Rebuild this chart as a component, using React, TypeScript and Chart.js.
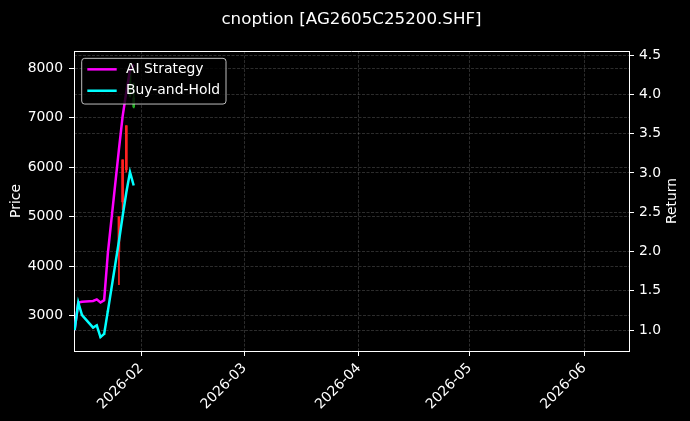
import { useEffect, useRef } from 'react';
import { Chart, registerables } from 'chart.js';

Chart.register(...registerables);

const TITLE = 'cnoption [AG2605C25200.SHF]';

// trading days shown in the reference
const DATES = [
  '2026-01-14', '2026-01-15', '2026-01-16', '2026-01-19', '2026-01-20', '2026-01-21', '2026-01-22',
  '2026-01-23', '2026-01-26', '2026-01-27', '2026-01-28', '2026-01-29', '2026-01-30',
];
const AI_STRATEGY = [1.0, 1.35, 1.36, 1.37, 1.39, 1.35, 1.38, 1.98, 3.3, 3.72, 4.03, 4.31, 4.38];
const BUY_AND_HOLD = [1.0, 1.35, 1.19, 1.03, 1.06, 0.91, 0.95, 1.24, 2.13, 2.45, 2.75, 3.01, 2.84];

// candles (price axis)
const OPEN = [2740, 3240, 3025, 2770, 2795, 2580, 2620, 3080, 5000, 6150, 6840, 7450, 7220];
const HIGH = [2765, 3265, 3030, 2775, 2815, 2585, 2640, 3100, 5000, 6150, 6840, 8100, 7700];
const LOW = [2735, 3235, 3000, 2750, 2790, 2565, 2615, 3075, 3630, 5140, 5900, 7420, 7200];
const CLOSE = [2752, 3257, 3005, 2755, 2810, 2570, 2635, 3095, 4300, 5300, 5950, 7950, 7400];

const PRICE_TICKS = [3000, 4000, 5000, 6000, 7000, 8000];
const RETURN_TICKS = [1.0, 1.5, 2.0, 2.5, 3.0, 3.5, 4.0, 4.5];
const MONTH_TICKS = ['2026-02-01', '2026-03-01', '2026-04-01', '2026-05-01', '2026-06-01'];

const SERIES = ['AI Strategy', 'Buy-and-Hold'];
const SERIES_COLORS = ['#ff00ff', '#00ffff'];

const FONT = 'DejaVu Sans';
const UP = '#22b022';
const DOWN = '#ff2020';
const GRID = 'rgba(255,255,255,0.22)';

const ts = (d: string) => Date.parse(d + 'T00:00:00Z');

const legendPlugin = {
  id: 'boxLegend',
  afterDatasetsDraw(chart: any) {
    const { ctx, chartArea } = chart;
    const x = chartArea.left + 7.7;
    const y = chartArea.top + 7.3;
    ctx.save();
    ctx.beginPath();
    ctx.roundRect(x, y, 144.3, 45.7, 3);
    ctx.fillStyle = 'rgba(0,0,0,0.8)';
    ctx.fill();
    ctx.strokeStyle = 'rgba(210,210,210,0.9)';
    ctx.lineWidth = 1;
    ctx.stroke();
    ctx.font = `13.9px "${FONT}"`;
    ctx.textBaseline = 'middle';
    SERIES.forEach((name, i) => {
      const ly = y + 11 + i * 21.4;
      ctx.strokeStyle = SERIES_COLORS[i];
      ctx.lineWidth = 2.5;
      ctx.beginPath();
      ctx.moveTo(x + 5.6, ly);
      ctx.lineTo(x + 35, ly);
      ctx.stroke();
      ctx.fillStyle = '#ffffff';
      ctx.fillText(name, x + 44.3, ly);
    });
    ctx.restore();
  },
};

const framePlugin = {
  id: 'frame',
  afterDraw(chart: any) {
    const { ctx, chartArea } = chart;
    ctx.save();
    ctx.strokeStyle = '#ffffff';
    ctx.lineWidth = 1;
    ctx.beginPath();
    ctx.moveTo(chartArea.left, Math.round(chartArea.top) + 0.5);
    ctx.lineTo(chartArea.right, Math.round(chartArea.top) + 0.5);
    ctx.stroke();
    // right axis title, reading bottom to top
    ctx.translate(672, (chartArea.top + chartArea.bottom) / 2);
    ctx.rotate(-Math.PI / 2);
    ctx.font = `13.9px "${FONT}"`;
    ctx.fillStyle = '#ffffff';
    ctx.textAlign = 'center';
    ctx.textBaseline = 'middle';
    ctx.fillText('Return', 0, 0);
    ctx.restore();
  },
};

export default function App() {
  const chartRef = useRef<HTMLCanvasElement>(null);

  useEffect(() => {
    document.body.style.margin = '0';
    document.body.style.background = '#000';
    if (!chartRef.current) return;
    const ctx = chartRef.current.getContext('2d');
    if (!ctx) return;

    const xs = DATES.map(ts);
    const candleColors = OPEN.map((o, i) => (CLOSE[i] >= o ? UP : DOWN));
    const tickFont = { family: FONT, size: 13.9 };

    const chart = new Chart(ctx, {
      type: 'line',
      data: {
        datasets: [
          {
            type: 'line',
            label: SERIES[1],
            data: xs.map((x, i) => ({ x, y: BUY_AND_HOLD[i] })),
            borderColor: SERIES_COLORS[1],
            borderWidth: 2.5,
            pointRadius: 0,
            tension: 0,
            yAxisID: 'yReturn',
            order: 0,
          },
          {
            type: 'line',
            label: SERIES[0],
            data: xs.map((x, i) => ({ x, y: AI_STRATEGY[i] })),
            borderColor: SERIES_COLORS[0],
            borderWidth: 2.5,
            pointRadius: 0,
            tension: 0,
            yAxisID: 'yReturn',
            order: 1,
          },
          {
            type: 'bar',
            label: 'body',
            data: xs.map((x, i) => ({ x, y: [OPEN[i], CLOSE[i]] })),
            backgroundColor: candleColors,
            borderWidth: 0,
            barThickness: 2,
            grouped: false,
            yAxisID: 'yPrice',
            order: 2,
          },
          {
            type: 'bar',
            label: 'wick',
            data: xs.map((x, i) => ({ x, y: [LOW[i], HIGH[i]] })),
            backgroundColor: candleColors,
            borderWidth: 0,
            barThickness: 1,
            grouped: false,
            yAxisID: 'yPrice',
            order: 3,
          },
        ] as any,
      },
      options: {
        responsive: true,
        maintainAspectRatio: false,
        animation: false,
        layout: { padding: 0 },
        plugins: {
          legend: { display: false },
          tooltip: { enabled: false },
          title: {
            display: true,
            text: TITLE,
            color: '#ffffff',
            fullSize: false,
            font: { family: FONT, size: 16.7, weight: 'normal' },
            padding: { top: 10, bottom: 21 },
          },
        },
        scales: {
          x: {
            type: 'linear',
            min: Date.parse('2026-01-13T20:00:00Z'),
            max: Date.parse('2026-06-13T03:00:00Z'),
            offset: false,
            afterBuildTicks: (s: any) => {
              s.ticks = MONTH_TICKS.map((d) => ({ value: ts(d) }));
            },
            afterFit: (s: any) => {
              s.height = 70;
            },
            ticks: {
              color: '#ffffff',
              font: tickFont,
              autoSkip: false,
              minRotation: 45,
              maxRotation: 45,
              padding: 4,
              callback: (v: any) => new Date(Number(v)).toISOString().slice(0, 7),
            },
            grid: {
              color: GRID,
              lineWidth: 0.8,
              offset: false,
              tickColor: '#ffffff',
              tickLength: 5,
              tickWidth: 1,
              tickBorderDash: [],
            },
            border: { display: true, color: '#ffffff', width: 1, dash: [3, 1.5] },
          },
          yPrice: {
            type: 'linear',
            position: 'left',
            min: 2287,
            max: 8349,
            afterBuildTicks: (s: any) => {
              s.ticks = PRICE_TICKS.map((v) => ({ value: v }));
            },
            afterFit: (s: any) => {
              s.width = 74;
            },
            ticks: {
              color: '#ffffff',
              font: tickFont,
              padding: 6,
              callback: (v: any) => String(v),
            },
            title: {
              display: true,
              text: 'Price',
              color: '#ffffff',
              font: tickFont,
              padding: { top: 8, bottom: 0 },
            },
            grid: {
              color: GRID,
              lineWidth: 0.8,
              tickColor: '#ffffff',
              tickLength: 5,
              tickWidth: 1,
              tickBorderDash: [],
            },
            border: { display: true, color: '#ffffff', width: 1, dash: [3, 1.5] },
          },
          yReturn: {
            type: 'linear',
            position: 'right',
            min: 0.733,
            max: 4.551,
            afterBuildTicks: (s: any) => {
              s.ticks = RETURN_TICKS.map((v) => ({ value: v }));
            },
            afterFit: (s: any) => {
              s.width = 61;
            },
            ticks: {
              color: '#ffffff',
              font: tickFont,
              padding: 5,
              callback: (v: any) => Number(v).toFixed(1),
            },
            grid: {
              color: GRID,
              lineWidth: 0.8,
              tickColor: '#ffffff',
              tickLength: 5,
              tickWidth: 1,
              tickBorderDash: [],
            },
            border: { display: true, color: '#ffffff', width: 1, dash: [3, 1.5] },
          },
        },
      } as any,
      plugins: [legendPlugin, framePlugin],
    });

    return () => chart.destroy();
  }, []);

  return (
    <div style={{ position: 'fixed', left: 0, top: 0, width: 690, height: 421, background: '#000' }}>
      <canvas ref={chartRef} />
    </div>
  );
}
